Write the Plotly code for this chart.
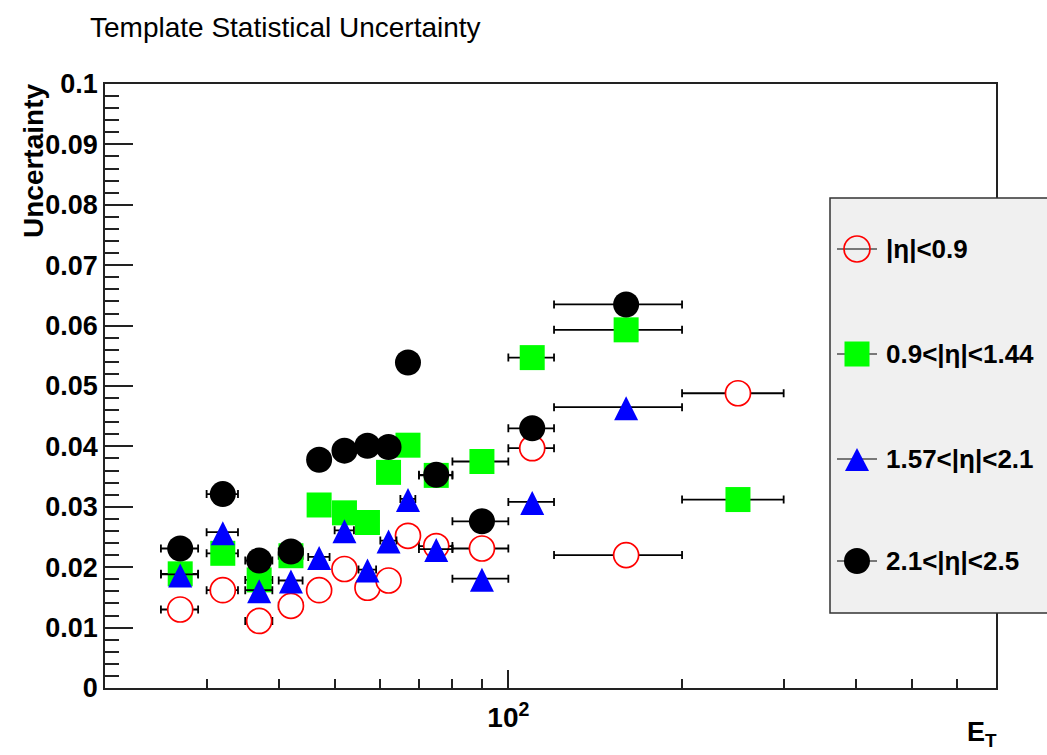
import plotly.graph_objects as go

# ---- data -------------------------------------------------------------
et_centers = [27, 32, 37, 42, 47, 52, 57, 62, 67, 75, 90, 110, 160, 250]
et_halfwidths = [2, 2, 2, 2, 2, 2, 2, 2, 2, 5, 10, 10, 40, 50]

unc_central = [0.0130, 0.0162, 0.0111, 0.0136, 0.0162, 0.0197, 0.0166,
               0.0178, 0.0252, 0.0235, 0.0231, 0.0397, 0.0220, 0.0488]
unc_crack = [0.0189, 0.0223, 0.0179, 0.0219, 0.0303, 0.0290, 0.0274,
             0.0357, 0.0402, 0.0352, 0.0375, 0.0547, 0.0593, 0.0312]
unc_endcap_inner = [0.0188, 0.0258, 0.0162, 0.0178, 0.0217, 0.0261, 0.0196,
                    0.0244, 0.0313, 0.0230, 0.0181, 0.0308, 0.0465]
unc_endcap_outer = [0.0231, 0.0321, 0.0211, 0.0226, 0.0378, 0.0393, 0.0401,
                    0.0399, 0.0539, 0.0353, 0.0276, 0.0430, 0.0635]

series_labels = ["|η|<0.9", "0.9<|η|<1.44", "1.57<|η|<2.1", "2.1<|η|<2.5"]

y_tick_vals = [0, 0.01, 0.02, 0.03, 0.04, 0.05, 0.06, 0.07, 0.08, 0.09, 0.1]
y_tick_text = ["0", "0.01", "0.02", "0.03", "0.04", "0.05", "0.06",
               "0.07", "0.08", "0.09", "0.1"]
x_tick_vals = [100]
x_tick_text = ["10<sup>2</sup>"]
x_minor_vals = [30, 40, 50, 60, 70, 80, 90, 200, 300, 400, 500, 600]

# ---- canvas geometry ----------------------------------------------------
W, H = 1047, 755
ML, MR, MT, MB = 105, 51, 84, 67
PW, PH = W - ML - MR, H - MT - MB
FONT = "Liberation Sans"
AXIS_COL = "#222222"


def fx(px):
    return (px - ML) / PW


def fy(py):
    return (H - MB - py) / PH


# marker styles (open circles get a white fill so their own error bar
# stops at the marker edge)
styles = [
    dict(symbol="circle", size=25, color="#ffffff",
         line=dict(color="#ff0000", width=1.7)),
    dict(symbol="square", size=25, color="#00ff00", line=dict(width=0)),
    dict(symbol="arrow-down", size=24, angle=180, standoff=11,
         color="#0000ff", line=dict(width=0)),
    dict(symbol="circle", size=26, color="#000000", line=dict(width=0)),
]
legend_kind = ["open", "square", "triangle", "filled"]
legend_color = ["#ff0000", "#00ff00", "#0000ff", "#000000"]
values = [unc_central, unc_crack, unc_endcap_inner, unc_endcap_outer]

fig = go.Figure()
for label, vals, mk in zip(series_labels, values, styles):
    n = len(vals)
    fig.add_trace(go.Scatter(
        x=et_centers[:n], y=vals, mode="markers", name=label,
        marker=mk, showlegend=False,
        error_x=dict(type="data", array=et_halfwidths[:n], symmetric=True,
                     color="#000000", thickness=1.8, width=4),
    ))

# ---- hand-built legend box --------------------------------------------
shapes = [dict(type="rect", xref="paper", yref="paper", layer="above",
               x0=fx(830), x1=fx(1070), y0=fy(613), y1=fy(198),
               fillcolor="#f0f0f0", line=dict(color="#333333", width=1.5))]
annotations = []
key_x, text_x = 857, 884
entry_y = [249, 354, 459, 561]
for label, ey, kind, col in zip(series_labels, entry_y, legend_kind,
                                legend_color):
    ax, ay = fx(key_x), fy(ey)
    shapes.append(dict(type="line", xref="paper", yref="paper", layer="above",
                       xsizemode="pixel", xanchor=ax, x0=-20, x1=20,
                       y0=ay, y1=ay, line=dict(color="#000000", width=1.2)))
    common = dict(xref="paper", yref="paper", layer="above",
                  xsizemode="pixel", ysizemode="pixel", xanchor=ax, yanchor=ay)
    if kind == "open":
        shapes.append(dict(type="circle", x0=-13, x1=13, y0=-13, y1=13,
                           fillcolor="rgba(0,0,0,0)",
                           line=dict(color=col, width=1.7), **common))
    elif kind == "square":
        shapes.append(dict(type="rect", x0=-12.5, x1=12.5, y0=-12.5, y1=12.5,
                           fillcolor=col, line=dict(width=0), **common))
    elif kind == "filled":
        shapes.append(dict(type="circle", x0=-13, x1=13, y0=-13, y1=13,
                           fillcolor=col, line=dict(width=0), **common))
    else:
        shapes.append(dict(type="path", path="M -12,-12 L 12,-12 L 0,11 Z",
                           fillcolor=col, line=dict(width=0), **common))
    annotations.append(dict(xref="paper", yref="paper", x=fx(text_x), y=ay,
                            xanchor="left", yanchor="middle", showarrow=False,
                            text=label,
                            font=dict(family=FONT, size=26, color="#000000",
                                      weight="bold")))

# axis titles
annotations.append(dict(xref="paper", yref="paper", x=fx(33), y=fy(161),
                        xanchor="center", yanchor="middle", showarrow=False,
                        textangle=-90, text="Uncertainty",
                        font=dict(family=FONT, size=28, color="#000000",
                                  weight="bold")))
annotations.append(dict(xref="paper", yref="paper", x=fx(999), y=fy(734),
                        xanchor="right", yanchor="middle", showarrow=False,
                        text="E<sub>T</sub>",
                        font=dict(family=FONT, size=27, color="#000000",
                                  weight="bold")))

fig.update_layout(
    width=W, height=H,
    margin=dict(l=ML, r=MR, t=MT, b=MB, autoexpand=False),
    paper_bgcolor="#ffffff", plot_bgcolor="#ffffff",
    showlegend=False,
    title=dict(text="Template Statistical Uncertainty",
               xref="container", yref="container",
               x=90 / W, xanchor="left", y=1 - 27 / H, yanchor="middle",
               font=dict(family=FONT, size=28, color="#000000")),
    xaxis=dict(type="log", range=[1.30103, 2.845098],
               showgrid=False, zeroline=False,
               showline=True, linecolor=AXIS_COL, linewidth=1.5, mirror=True,
               ticks="inside", ticklen=18, tickwidth=1.5, tickcolor=AXIS_COL,
               tickmode="array", tickvals=x_tick_vals, ticktext=x_tick_text,
               ticklabelstandoff=4,
               tickfont=dict(family=FONT, size=28, color="#000000",
                             weight="bold"),
               minor=dict(tickmode="array", tickvals=x_minor_vals,
                          ticks="inside", ticklen=9, tickwidth=1.5,
                          tickcolor=AXIS_COL, showgrid=False)),
    yaxis=dict(range=[0, 0.1], showgrid=False, zeroline=False,
               showline=True, linecolor=AXIS_COL, linewidth=1.5, mirror=True,
               ticks="inside", ticklen=28, tickwidth=1.5, tickcolor=AXIS_COL,
               tickmode="array", tickvals=y_tick_vals, ticktext=y_tick_text,
               tickfont=dict(family=FONT, size=27, color="#000000",
                             weight="bold"),
               minor=dict(dtick=0.002, ticks="inside", ticklen=14,
                          tickwidth=1.5, tickcolor=AXIS_COL, showgrid=False)),
    shapes=shapes,
    annotations=annotations,
)

fig.write_html("out.html")
